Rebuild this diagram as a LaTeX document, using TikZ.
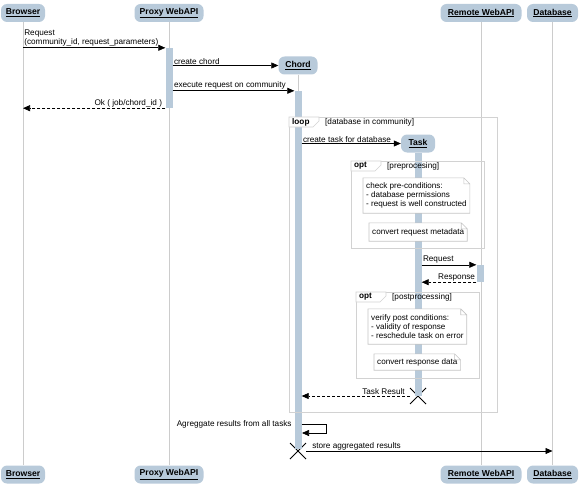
\documentclass[tikz,border=0pt]{standalone}
\usepackage{fontspec}
\setmainfont{Liberation Sans}
\usetikzlibrary{arrows.meta,shapes.misc}
\definecolor{headblue}{HTML}{B8CADA}
\definecolor{lifegray}{HTML}{CCCCCC}
\definecolor{framegray}{HTML}{D2D2D2}
\definecolor{notegray}{HTML}{C4C4C4}

\begin{document}
\begin{tikzpicture}[x=1pt,y=-1pt,
	head/.style={fill=headblue, rounded corners=6pt, minimum height=18pt, inner sep=0pt, font=\fontsize{8.6}{10}\selectfont\bfseries},
	life/.style={draw=lifegray, line width=0.6pt},
	act/.style={fill=headblue, minimum width=7pt, inner sep=0pt},
	msg/.style={-{Triangle[length=7pt,width=6pt]}, line width=0.6pt},
	reply/.style={msg, dash pattern=on 3pt off 2pt},
	lbl/.style={font=\fontsize{8.2}{9.3}\selectfont, inner sep=1pt},
	frm/.style={draw=framegray, line width=0.6pt},
	note/.style={fill=white, font=\fontsize{8.1}{9.2}\selectfont, align=left, inner xsep=3pt, anchor=west},
	notebd/.style={draw=notegray, line width=0.6pt},
	destroy/.style={cross out, draw, line width=1pt, minimum size=15pt, inner sep=0pt}
]
	\useasboundingbox (0,0) rectangle (585,484);

	% participants
	\node[head, minimum width=44pt] (bro) at (23,13) {\underline{Browser}};
	\node[head, minimum width=69pt] (px) at (169,13) {\underline{Proxy WebAPI}};
	\node[head, minimum width=39pt] (chord) at (298,65.5) {\underline{Chord}};
	\node[head, minimum width=34pt] (task) at (418,143.5) {\underline{Task}};
	\node[head, minimum width=81pt] (rm) at (481,13) {\underline{Remote WebAPI}};
	\node[head, minimum width=51pt] (db) at (552.5,13) {\underline{Database}};
	\node[head, minimum width=44pt] (bro2) at (23,474.5) {\underline{Browser}};
	\node[head, minimum width=69pt] (px2) at (169,474.5) {\underline{Proxy WebAPI}};
	\node[head, minimum width=81pt] (rm2) at (481,474.5) {\underline{Remote WebAPI}};
	\node[head, minimum width=51pt] (db2) at (552.5,474.5) {\underline{Database}};

	\node[destroy] (tkx) at (418,396) {};
	\node[destroy] (chx) at (298,451) {};

	% lifelines
	\draw[life] (bro.south) -- (bro2.north);
	\draw[life] (px.south) -- (px2.north);
	\draw[life] (rm.south) -- (rm2.north);
	\draw[life] (db.south) -- (db2.north);
	\draw[life] (chord.south) -- (chx);
	\draw[life] (task.south) -- (tkx);

	% activations
	\node[act, minimum height=60pt] (pxact) at (169,78) {};
	\node[act, minimum height=358pt] (chact) at (298,270) {};
	\node[act, minimum height=243pt] (tkact) at (418,274.5) {};
	\node[act, minimum height=17pt] (rmact) at (480,273.5) {};

	% combined fragments
	\foreach \x/\y/\X/\Y/\t/\c [count=\i] in {289/117/497/412/loop/database in community,
			351/161/484/248/opt/preprocesing, 356/292/479/378/opt/postprocessing} {
		\draw[frm] (\x,\y) rectangle (\X,\Y);
		\draw[frm, fill=white] (\x,\y) -| ({\x+30},{\y+4}) -- ({\x+24},{\y+10}) -- (\x,{\y+10}) -- cycle;
		\node[lbl, anchor=west, font=\fontsize{8.2}{9.3}\selectfont\bfseries] (frm\i) at ({\x+2},{\y+5}) {\t};
		\node[lbl, anchor=west] (cond\i) at ({\x+35},{\y+5}) {[\c]};
	}

	% notes
	\node[note, minimum height=35pt] (pre) at (363,195.5)
		{check pre-conditions:\\- database permissions\\- request is well constructed};
	\node[note, minimum height=18pt] (meta) at (369,232) {convert request metadata};
	\node[note, minimum height=35pt] (post) at (368,326.5)
		{verify post conditions:\\- validity of response\\- reschedule task on error};
	\node[note, minimum height=16pt] (resp) at (374,362) {convert response data};
	\foreach \n in {pre,meta,post,resp}
		\draw[notebd] (\n.north west) -- ([xshift=-6pt]\n.north east) -- ([yshift=-6pt]\n.north east)
			-- (\n.south east) -- (\n.south west) -- cycle
			([xshift=-6pt]\n.north east) |- ([yshift=-6pt]\n.north east);

	% messages
	\draw[msg] (bro |- pxact.north) -- (pxact.north west)
		node[lbl, pos=0, above right, align=left] {Request\\ (community\_id, request\_parameters)};
	\draw[msg] (pxact.east |- chord) -- (chord.west) node[lbl, pos=0, above right] {create chord};
	\draw[msg] (pxact.east |- chact.north) -- (chact.north west)
		node[lbl, pos=0, above right] {execute request on community};
	\draw[reply] (pxact.south west) -- (bro |- pxact.south)
		node[lbl, pos=0, above left, xshift=-2pt] {Ok ( job/chord\_id )};
	\draw[msg] (chact.east |- task) -- (task.west) node[lbl, pos=0, above right] {create task for database};
	\draw[msg] (tkact.east |- rmact.north) -- (rmact.north west) node[lbl, pos=0, above right] {Request};
	\draw[reply] (rmact.south west) -- (tkact.east |- rmact.south)
		node[lbl, pos=0, above left] {Response};
	\draw[reply] (tkx) -- (chact.east |- tkx) node[lbl, pos=0, above left, xshift=-4pt] {Task Result};

	\coordinate (ag) at (301.5,424);
	\draw[msg] (ag) -| ++(25,9) -- ++(-24.5,0);
	\node[lbl, left=1.5pt] (aglbl) at (chact.west |- ag) {Agreggate results from all tasks};

	\draw[msg] (chx) -- (db |- chx) node[lbl, pos=0, above right, xshift=5pt] {store aggregated results};
\end{tikzpicture}
\end{document}
